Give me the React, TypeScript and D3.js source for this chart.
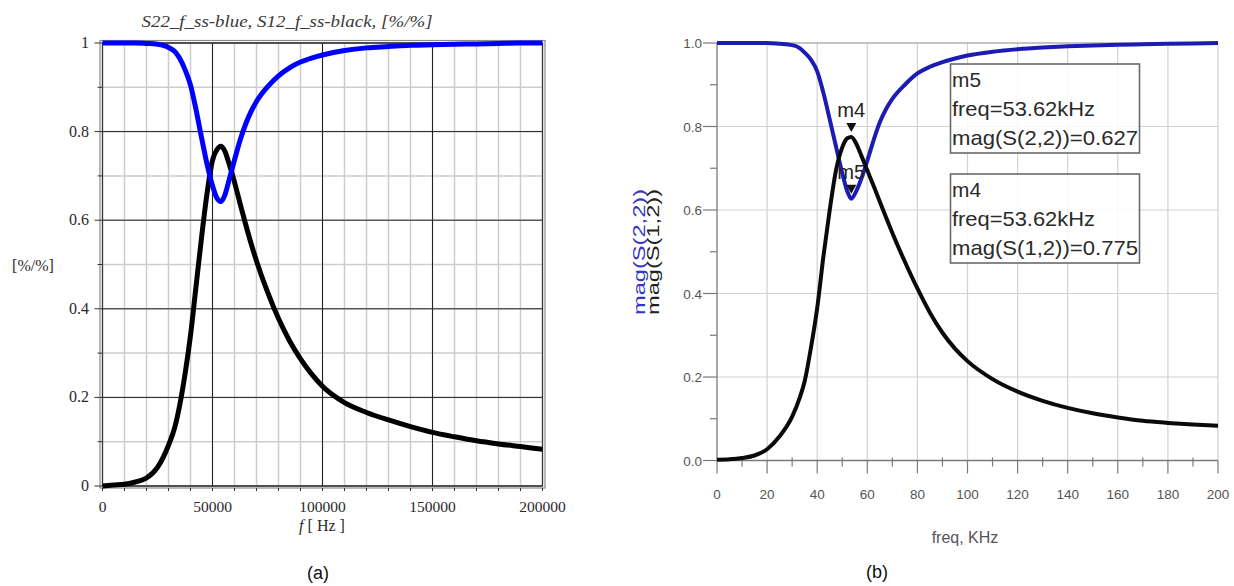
import * as d3 from "d3";

// left panel (a): frequency in Hz
const freqHz = [0, 5000, 10000, 15000, 20000, 25000, 30000, 33000, 35000, 37500, 40000, 42500, 45000, 47500, 50000, 52000, 53800, 55500, 57500, 60000, 62500, 65000, 67500, 70000, 75000, 80000, 85000, 90000, 95000, 100000, 110000, 120000, 130000, 140000, 150000, 160000, 170000, 180000, 190000, 200000];
const s22Hz = [1, 1, 1, 1, 0.999, 0.997, 0.99, 0.98, 0.966, 0.94, 0.905, 0.85, 0.787, 0.727, 0.678, 0.65, 0.642, 0.655, 0.69, 0.736, 0.78, 0.816, 0.845, 0.868, 0.901, 0.926, 0.944, 0.957, 0.966, 0.973, 0.983, 0.989, 0.992, 0.995, 0.996, 0.997, 0.998, 0.999, 1, 1];
const s12Hz = [0, 0.002, 0.004, 0.009, 0.018, 0.042, 0.092, 0.135, 0.18, 0.252, 0.34, 0.45, 0.56, 0.66, 0.735, 0.759, 0.767, 0.757, 0.728, 0.686, 0.638, 0.592, 0.548, 0.508, 0.438, 0.378, 0.328, 0.287, 0.253, 0.225, 0.188, 0.166, 0.149, 0.134, 0.121, 0.111, 0.102, 0.095, 0.089, 0.083];

// right panel (b): frequency in kHz
const freqKHz = [0, 5, 10, 15, 20, 25, 30, 33, 35, 37.5, 40, 42.5, 45, 47.5, 50, 52, 53.62, 55.5, 57.5, 60, 62.5, 65, 67.5, 70, 75, 80, 85, 90, 95, 100, 110, 120, 130, 140, 150, 160, 170, 180, 190, 200];
const s22KHz = [1, 1, 1, 1, 1, 0.998, 0.995, 0.988, 0.977, 0.96, 0.932, 0.88, 0.817, 0.752, 0.688, 0.645, 0.627, 0.644, 0.673, 0.718, 0.767, 0.81, 0.842, 0.866, 0.9, 0.927, 0.943, 0.954, 0.963, 0.97, 0.979, 0.985, 0.989, 0.992, 0.994, 0.996, 0.997, 0.998, 0.999, 1];
const s12KHz = [0.002, 0.003, 0.006, 0.012, 0.027, 0.058, 0.105, 0.15, 0.19, 0.27, 0.365, 0.49, 0.6, 0.695, 0.75, 0.772, 0.775, 0.76, 0.732, 0.695, 0.658, 0.62, 0.582, 0.545, 0.476, 0.412, 0.354, 0.306, 0.268, 0.238, 0.195, 0.165, 0.143, 0.126, 0.113, 0.103, 0.095, 0.09, 0.086, 0.083];

const leftXTicks = [0, 50000, 100000, 150000, 200000];
const leftYTicks = [0, 0.2, 0.4, 0.6, 0.8, 1];
const rightXTicks = [0, 20, 40, 60, 80, 100, 120, 140, 160, 180, 200];
const rightYTicks = [0, 0.2, 0.4, 0.6, 0.8, 1];

const markers = [
  { name: "m5", freq: 53.62, value: 0.627, param: "mag(S(2,2))", series: "s22" },
  { name: "m4", freq: 53.62, value: 0.775, param: "mag(S(1,2))", series: "s12" },
];

const SERIF = "'Liberation Serif', 'Times New Roman', serif";
const SANS = "'Liberation Sans', Arial, sans-serif";

function LeftPanel() {
  const x = d3.scaleLinear().domain([0, 200000]).range([102.5, 542.5]);
  const y = d3.scaleLinear().domain([0, 1]).range([486, 43]);
  const line = d3
    .line<number>()
    .x((_, i) => x(freqHz[i]))
    .y((d) => y(d))
    .curve(d3.curveMonotoneX);
  const minorX = d3.range(0, 200001, 10000);
  const minorY = d3.range(0, 1.0001, 0.1);

  return (
    <g>
      <text x={287} y={27} textAnchor="middle" fontFamily={SERIF} fontStyle="italic" fontSize={17} fill="#3a3a3a" textLength={291} lengthAdjust="spacingAndGlyphs">
        S22_f_ss-blue, S12_f_ss-black, [%/%]
      </text>
      {minorX.map((v) => (
        <line key={"gx" + v} x1={x(v)} x2={x(v)} y1={y(0)} y2={y(1)} stroke="#cdcdcd" strokeWidth={1.5} />
      ))}
      {minorY.map((v) => (
        <line key={"gy" + v} x1={x(0)} x2={x(200000)} y1={y(v)} y2={y(v)} stroke="#cdcdcd" strokeWidth={1.5} />
      ))}
      {leftXTicks.map((v) => (
        <line key={"mx" + v} x1={x(v)} x2={x(v)} y1={y(0)} y2={y(1)} stroke="#222" strokeWidth={1} />
      ))}
      {leftYTicks.map((v) => (
        <line key={"my" + v} x1={x(0)} x2={x(200000)} y1={y(v)} y2={y(v)} stroke="#222" strokeWidth={1} />
      ))}
      <rect x={100} y={40.5} width={445} height={447.5} fill="none" stroke="#8a8a8a" strokeWidth={1.2} />
      <rect x={102.5} y={43} width={440} height={443} fill="none" stroke="#333" strokeWidth={1.2} />
      {minorY.map((v, i) => (
        <line key={"ty" + v} x1={x(0) - (i % 2 === 0 ? 8 : 5)} x2={x(0)} y1={y(v)} y2={y(v)} stroke="#333" strokeWidth={1} />
      ))}
      {minorX.map((v) => (
        <line key={"tx" + v} x1={x(v)} x2={x(v)} y1={y(0) + 2} y2={y(0) + 5} stroke="#333" strokeWidth={1} />
      ))}
      {leftYTicks.map((v) => (
        <text key={"ly" + v} x={89} y={y(v) + 5} textAnchor="end" fontFamily={SERIF} fontSize={16} fill="#2a2a2a">
          {v === 0 || v === 1 ? String(v) : v.toFixed(1)}
        </text>
      ))}
      {leftXTicks.map((v) => (
        <text key={"lx" + v} x={x(v)} y={512} textAnchor="middle" fontFamily={SERIF} fontSize={15.5} fill="#2a2a2a">
          {v}
        </text>
      ))}
      <text x={322} y={531} textAnchor="middle" fontFamily={SERIF} fontSize={16} fill="#2a2a2a">
        <tspan fontStyle="italic">f</tspan>
        <tspan> [ Hz ]</tspan>
      </text>
      <text x={33} y={271} textAnchor="middle" fontFamily={SERIF} fontSize={16} fill="#2a2a2a">
        [%/%]
      </text>
      <path d={line(s12Hz) || ""} fill="none" stroke="#000" strokeWidth={5} strokeLinejoin="round" />
      <path d={line(s22Hz) || ""} fill="none" stroke="#0000ff" strokeWidth={5} strokeLinejoin="round" />
      <text x={318} y={579} textAnchor="middle" fontFamily={SANS} fontSize={18} fill="#111">
        (a)
      </text>
    </g>
  );
}

function RightPanel() {
  const x = d3.scaleLinear().domain([0, 200]).range([717, 1218]);
  const y = d3.scaleLinear().domain([0, 1]).range([460.5, 43]);
  const line = d3
    .line<number>()
    .x((_, i) => x(freqKHz[i]))
    .y((d) => y(d))
    .curve(d3.curveMonotoneX);
  const minorX = d3.range(10, 200, 20);
  const minorY = d3.range(0.1, 1, 0.2);
  const boxTops = [64, 174];

  return (
    <g>
      {rightXTicks.slice(1).map((v) => (
        <line key={"gx" + v} x1={x(v)} x2={x(v)} y1={y(0)} y2={y(1)} stroke="#d2d2d2" strokeWidth={1.2} />
      ))}
      {rightYTicks.slice(1).map((v) => (
        <line key={"gy" + v} x1={x(0)} x2={x(200)} y1={y(v)} y2={y(v)} stroke={v === 1 ? "#8a8a8a" : "#d2d2d2"} strokeWidth={1.2} />
      ))}
      <line x1={x(0)} x2={x(0)} y1={y(1)} y2={y(0)} stroke="#7a7a7a" strokeWidth={1.3} />
      <line x1={x(0)} x2={x(200)} y1={y(0)} y2={y(0)} stroke="#7a7a7a" strokeWidth={1.3} />
      {rightYTicks.map((v) => (
        <line key={"ty" + v} x1={x(0) - 14} x2={x(0)} y1={y(v)} y2={y(v)} stroke="#7a7a7a" strokeWidth={1.2} />
      ))}
      {minorY.map((v) => (
        <line key={"tmy" + v} x1={x(0) - 7} x2={x(0)} y1={y(v)} y2={y(v)} stroke="#7a7a7a" strokeWidth={1.2} />
      ))}
      {rightXTicks.map((v) => (
        <line key={"tx" + v} x1={x(v)} x2={x(v)} y1={y(0)} y2={y(0) + 13} stroke="#7a7a7a" strokeWidth={1.2} />
      ))}
      {minorX.map((v) => (
        <line key={"tmx" + v} x1={x(v)} x2={x(v)} y1={y(0) - 3} y2={y(0) + 6} stroke="#7a7a7a" strokeWidth={1.2} />
      ))}
      {rightYTicks.map((v) => (
        <text key={"ly" + v} x={702} y={y(v) + 5} textAnchor="end" fontFamily={SANS} fontSize={13.5} fill="#555">
          {v.toFixed(1)}
        </text>
      ))}
      {rightXTicks.map((v) => (
        <text key={"lx" + v} x={x(v)} y={499} textAnchor="middle" fontFamily={SANS} fontSize={13.5} fill="#555">
          {v}
        </text>
      ))}
      <text x={965} y={543} textAnchor="middle" fontFamily={SANS} fontSize={16} fill="#555">
        freq, KHz
      </text>
      <text transform="translate(645,252) rotate(-90)" textAnchor="middle" fontFamily={SANS} fontSize={17} fill="#3535c8" textLength={126} lengthAdjust="spacingAndGlyphs">
        mag(S(2,2))
      </text>
      <text transform="translate(659,252) rotate(-90)" textAnchor="middle" fontFamily={SANS} fontSize={17} fill="#222" textLength={126} lengthAdjust="spacingAndGlyphs">
        mag(S(1,2))
      </text>
      <path d={line(s22KHz) || ""} fill="none" stroke="#1c1cb4" strokeWidth={4} strokeLinejoin="round" />
      <path d={line(s12KHz) || ""} fill="none" stroke="#0a0a0a" strokeWidth={4} strokeLinejoin="round" />
      {markers.map((m) => {
        const px = x(m.freq);
        const py = y(m.value) - 5;
        return (
          <g key={m.name}>
            <path d={`M${px - 5},${py - 9}L${px + 5},${py - 9}L${px},${py}Z`} fill="#111" />
            <text x={px} y={py - 15} textAnchor="middle" fontFamily={SANS} fontSize={20} fill="#222" textLength={28} lengthAdjust="spacingAndGlyphs">
              {m.name}
            </text>
          </g>
        );
      })}
      {markers.map((m, i) => {
        const top = boxTops[i];
        return (
          <g key={"box" + m.name}>
            <rect x={950.5} y={top} width={189} height={89} fill="#fff" fillOpacity={0.85} stroke="#6a6a6a" strokeWidth={1.6} />
            <text x={952} y={top + 23} fontFamily={SANS} fontSize={21} fill="#2a2a2a" textLength={29} lengthAdjust="spacingAndGlyphs">
              {m.name}
            </text>
            <text x={952} y={top + 52} fontFamily={SANS} fontSize={21} fill="#2a2a2a" textLength={143} lengthAdjust="spacingAndGlyphs">
              {`freq=${m.freq.toFixed(2)}kHz`}
            </text>
            <text x={952} y={top + 81} fontFamily={SANS} fontSize={21} fill="#2a2a2a" textLength={186} lengthAdjust="spacingAndGlyphs">
              {`${m.param}=${m.value.toFixed(3)}`}
            </text>
          </g>
        );
      })}
      <text x={877} y={578} textAnchor="middle" fontFamily={SANS} fontSize={18} fill="#111">
        (b)
      </text>
    </g>
  );
}

export default function App() {
  return (
    <svg
      width={1234}
      height={586}
      style={{ position: "absolute", left: 0, top: 0, background: "#fff" }}
    >
      <LeftPanel />
      <RightPanel />
    </svg>
  );
}
